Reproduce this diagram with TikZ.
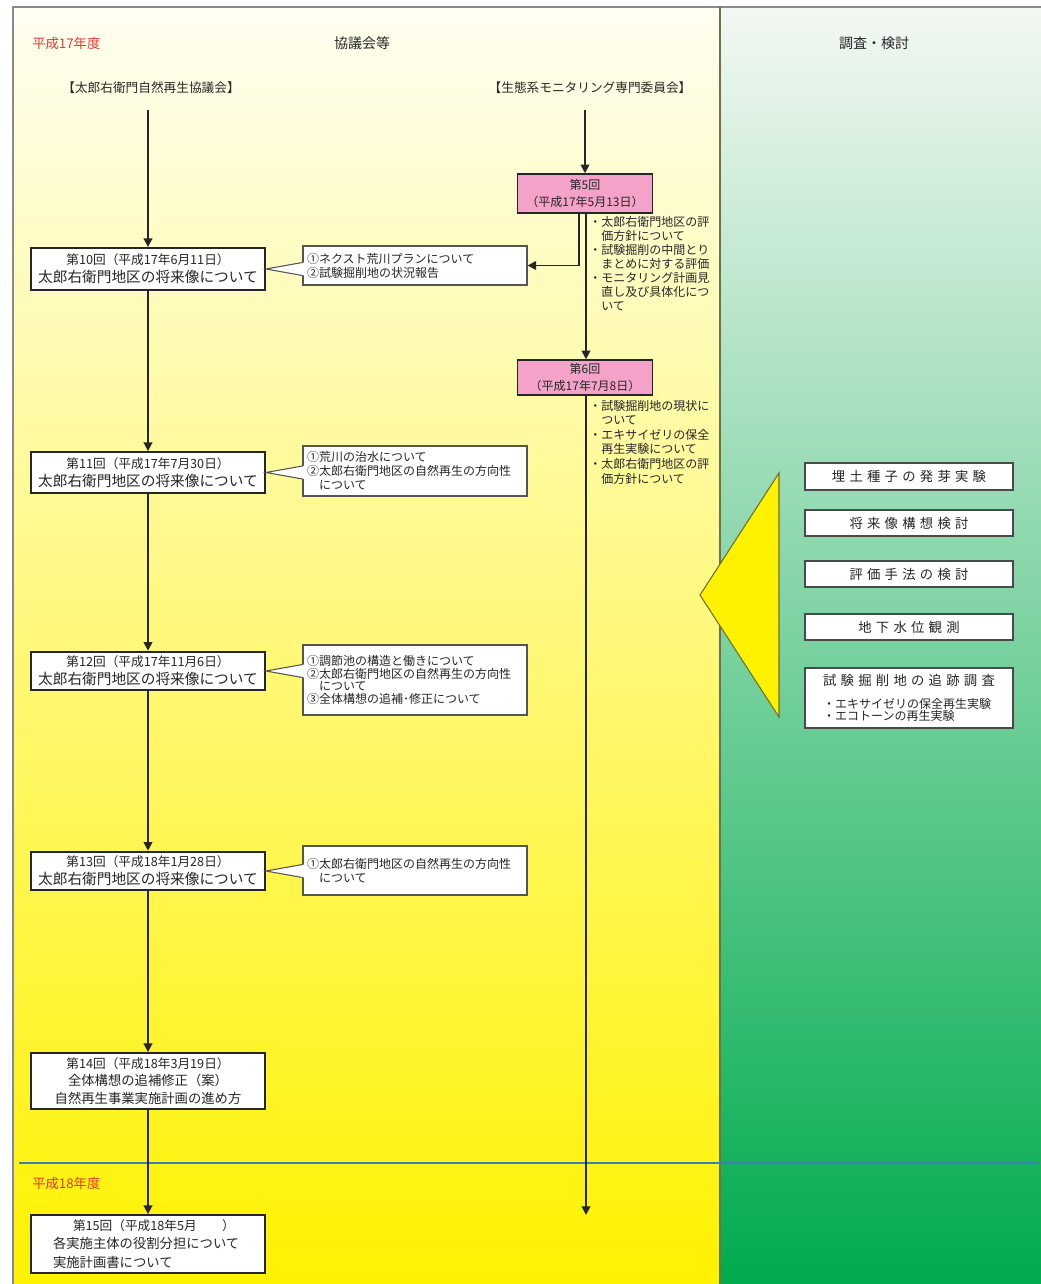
\documentclass[tikz,border=0pt]{standalone}
\usepackage{fontspec}
\setmainfont{Noto Sans CJK JP}
\usetikzlibrary{arrows.meta,calc}
\definecolor{txt}{HTML}{262626}
\definecolor{redlab}{HTML}{E6392E}
\definecolor{pinkf}{HTML}{F4A2CA}
\definecolor{bluel}{HTML}{3D80B3}
\definecolor{framec}{HTML}{8A8A8A}
\definecolor{divc}{HTML}{6F7448}
\definecolor{triedge}{HTML}{6E6E30}
\definecolor{callc}{HTML}{555555}
\definecolor{rboxc}{HTML}{4A4A4A}
\definecolor{lt}{HTML}{FFFEF2}
\definecolor{lm}{HTML}{FFF89C}
\definecolor{lb}{HTML}{FFF200}
\definecolor{rt}{HTML}{F3F8F2}
\definecolor{rm}{HTML}{A6D7A4}
\definecolor{rb}{HTML}{00AB4E}
\definecolor{trif}{HTML}{FFF200}
\begin{document}
\begin{tikzpicture}[x=0.75pt,y=-0.75pt,
  mainbox/.style={draw=txt, line width=1.4pt, fill=white, inner sep=0pt, minimum width=175.5pt, align=center, text=txt, font=\fontsize{11}{13.5}\selectfont},
  callbox/.style={draw=callc, line width=0.8pt, fill=white, inner xsep=3pt, inner ysep=0pt, text width=162pt, align=left, text=txt, font=\fontsize{9}{10.5}\selectfont},
  calline/.style={draw=callc, line width=0.8pt},
  pinkbox/.style={draw=txt, line width=1.1pt, fill=pinkf, minimum width=101.25pt, inner sep=0pt, align=center, text=txt, font=\fontsize{9}{12.75}\selectfont},
  rbox/.style={draw=rboxc, line width=0.9pt, fill=white, minimum width=156pt, inner sep=0pt, align=center, text=txt, font=\fontsize{10}{12}\selectfont\addfontfeatures{LetterSpace=32}},
  notes/.style={inner sep=0pt, align=left, text=txt, font=\fontsize{9}{10.5}\selectfont},
  head/.style={inner sep=0pt, text=txt, font=\fontsize{9.5}{12}\selectfont},
  title/.style={inner sep=0pt, text=txt, font=\fontsize{10.5}{12}\selectfont},
  yearlab/.style={inner sep=0pt, text=redlab, font=\fontsize{10}{12}\selectfont},
  arr/.style={draw=txt, line width=1.3pt, -{Triangle[width=6.5pt,length=6.5pt]}}
]
\useasboundingbox (0,0) rectangle (1041,1284);
\fill[white] (0,0) rectangle (1041,1284);
% backgrounds
\shade[top color=lt, middle color=lm, bottom color=lb] (13,7) rectangle (720,1284);
\shade[top color=rt, middle color=rm, bottom color=rb] (720,7) rectangle (1041,1284);
\draw[framec, line width=1.2pt] (13,1284) -- (13,7) -- (1041,7);
\draw[divc, line width=1pt] (720,7) -- (720,1284);
\draw[bluel, line width=2.2pt] (19,1163) -- (1038,1163);

% headings
\node[yearlab, anchor=west] (y17) at (32,43) {平成17年度};
\node[yearlab, anchor=west] (y18) at (32,1183) {平成18年度};
\node[title] (t1) at (362,43) {協議会等};
\node[title] (t2) at (874,43) {調査・検討};
\node[head] (h1) at (151,88) {【太郎右衛門自然再生協議会】};
\node[head] (h2) at (590,88) {【生態系モニタリング専門委員会】};
\coordinate (lTop) at (148,110);
\coordinate (cTop) at (585,110);
\coordinate (cEnd) at (586,1215);

% left column boxes
\node[mainbox, minimum height=31.5pt] (b10) at (148,269) {{\fontsize{9.5}{13.5}\selectfont 第10回（平成17年6月11日）}\\太郎右衛門地区の将来像について};
\node[mainbox, minimum height=30.75pt] (b11) at (148,472.5) {{\fontsize{9.5}{13.5}\selectfont 第11回（平成17年7月30日）}\\太郎右衛門地区の将来像について};
\node[mainbox, minimum height=29pt] (b12) at (148,671) {{\fontsize{9.5}{13.5}\selectfont 第12回（平成17年11月6日）}\\太郎右衛門地区の将来像について};
\node[mainbox, minimum height=29pt] (b13) at (148,871) {{\fontsize{9.5}{13.5}\selectfont 第13回（平成18年1月28日）}\\太郎右衛門地区の将来像について};
\node[mainbox, minimum height=42pt, font=\fontsize{10}{13}\selectfont] (b14) at (148,1081) {{\fontsize{9.5}{13}\selectfont 第14回（平成18年3月19日）}\\全体構想の追補修正（案）\\自然再生事業実施計画の進め方};
\node[mainbox, minimum height=43.5pt, font=\fontsize{10}{14}\selectfont, text width=142.5pt, align=left] (b15) at (148,1244) {\hspace*{15pt}{\fontsize{9.5}{14}\selectfont 第15回（平成18年5月　　）}\\各実施主体の役割分担について\\実施計画書について};

% callouts
\node[callbox, minimum height=29.25pt] (c10) at (415,265.5) {①ネクスト荒川プランについて\\②試験掘削地の状況報告};
\node[callbox, minimum height=37.5pt] (c11) at (415,471) {①荒川の治水について\\②太郎右衛門地区の自然再生の方向性\\　について};
\node[callbox, minimum height=52.5pt, font=\fontsize{9}{9.6}\selectfont] (c12) at (415,680) {①調節池の構造と働きについて\\②太郎右衛門地区の自然再生の方向性\\　について\\③全体構想の追補･修正について\\[4pt]};
\node[callbox, minimum height=36.75pt] (c13) at (415,870.5) {①太郎右衛門地区の自然再生の方向性\\　について};

% callout pointers
\foreach \b/\c in {b10/c10,b11/c11,b12/c12,b13/c13}{
  \fill[white] (\b.east) -- ($(\c.west|-\b.east)+(2,-6.5)$) -- ($(\c.west|-\b.east)+(2,6.5)$) -- cycle;
  \draw[calline] ($(\c.west|-\b.east)+(0,-6.5)$) -- (\b.east) -- ($(\c.west|-\b.east)+(0,6.5)$);
}

% committee boxes
\node[pinkbox, minimum height=29.25pt] (p5) at (585,193.5) {第5回\\（平成17年5月13日）};
\node[pinkbox, minimum height=26.25pt] (p6) at (585,377.5) {第6回\\（平成17年7月8日）};
\node[notes, anchor=north west] (n5) at (589,216) {・太郎右衛門地区の評\\　価方針について\\・試験掘削の中間とり\\　まとめに対する評価\\・モニタリング計画見\\　直し及び具体化につ\\　いて};
\node[notes, anchor=north west, font=\fontsize{9}{10.9}\selectfont] (n6) at (589,400) {・試験掘削地の現状に\\　ついて\\・エキサイゼリの保全\\　再生実験について\\・太郎右衛門地区の評\\　価方針について};

% right side
\fill[trif, draw=triedge, line width=0.8pt] (700,595) -- (779,473) -- (779,717) -- cycle;
\node[rbox, minimum height=20.25pt] (r1) at (909,476.5) {埋土種子の発芽実験};
\node[rbox, minimum height=19.5pt] (r2) at (909,523) {将来像構想検討};
\node[rbox, minimum height=19.5pt] (r3) at (909,574) {評価手法の検討};
\node[rbox, minimum height=19.5pt] (r4) at (909,627) {地下水位観測};
\node[rbox, minimum height=45pt, align=left, font=\fontsize{9}{9}\selectfont] (r5) at (909,698) {{\fontsize{10}{12}\selectfont\addfontfeatures{LetterSpace=32}試験掘削地の追跡調査}\\[8pt]・エキサイゼリの保全再生実験\\・エコトーンの再生実験};

% connectors
\draw[arr] (lTop) -- (b10.north);
\draw[arr] (b10.south) -- (b11.north);
\draw[arr] (b11.south) -- (b12.north);
\draw[arr] (b12.south) -- (b13.north);
\draw[arr] (b13.south) -- (b14.north);
\draw[arr] (b14.south) -- (b15.north);
\draw[arr] (cTop) -- (p5.north);
\draw[arr] ($(p5.south)+(-6,0)$) |- (c10.east);
\draw[arr] ($(p5.south)+(1,0)$) -- ($(p6.north)+(1,0)$);
\draw[arr] ($(p6.south)+(1,0)$) -- (cEnd);
\end{tikzpicture}
\end{document}
